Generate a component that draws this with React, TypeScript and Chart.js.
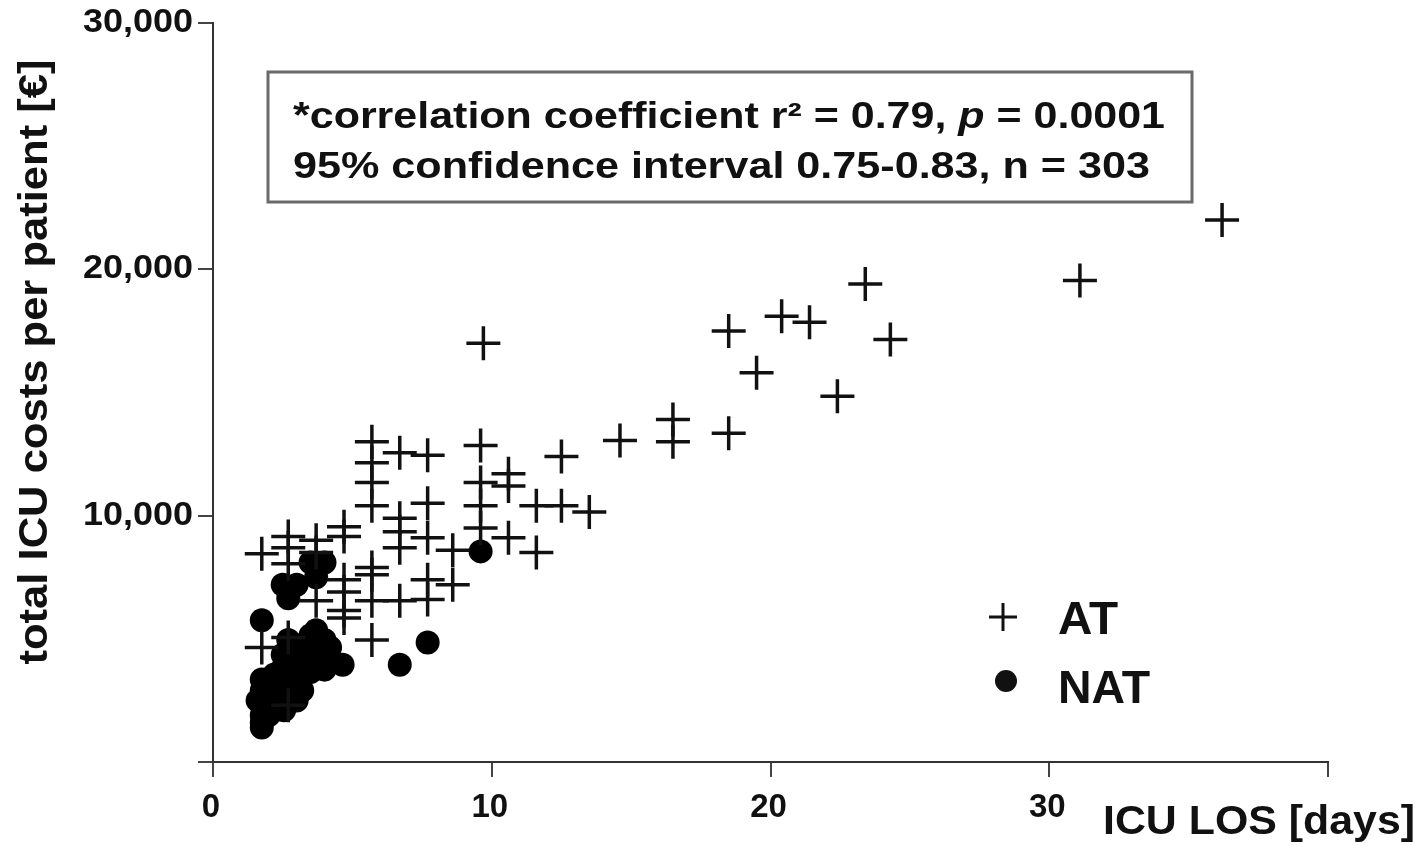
import React, { useEffect, useRef } from "react";
import { Chart, registerables } from "chart.js";

Chart.register(...registerables);

// ---- data ----
const atLos = [
  36.2, 31.1, 23.4, 24.3, 21.4, 20.4, 18.5, 19.5, 22.4, 18.5, 16.5, 16.5, 14.6,
  9.7, 13.5, 12.5, 12.5, 11.6, 11.6, 10.6, 10.6, 10.6, 9.6, 9.6, 9.6, 9.6,
  8.6, 8.6, 7.7, 7.7, 7.7, 7.7, 7.7, 6.7, 6.7, 6.7, 6.7, 6.7,
  5.7, 5.7, 5.7, 5.7, 5.7, 5.7, 5.7, 5.7,
  4.7, 4.7, 4.7, 4.7, 4.7, 4.7,
  3.7, 3.7, 3.7, 2.7, 2.7, 2.7, 2.7, 2.7, 1.75, 1.75,
];
const atCost = [
  22000, 19550, 19400, 17150, 17850, 18100, 17500, 15800, 14850, 13350, 13900, 13000, 13050,
  17000, 10150, 12400, 10400, 10400, 8500, 11700, 11200, 9100, 12850, 11350, 10400, 9500,
  8600, 7200, 12450, 10500, 9100, 7400, 6600, 12550, 9900, 9350, 8700, 6550,
  13000, 12150, 11350, 10400, 7900, 7600, 6550, 4950,
  9550, 9150, 7400, 6900, 6150, 5850,
  8500, 6550, 9000, 9150, 8700, 8050, 5050, 2300, 8450, 4650,
];
const natLos = [
  1.75, 2.5, 3.0, 2.7, 3.5, 4.0, 3.7, 3.5, 4.0, 3.7, 2.7, 3.2, 3.7, 4.2, 3.0,
  2.5, 3.0, 4.65, 1.75, 2.2, 1.75, 2.2, 2.7, 1.75, 1.6, 1.75, 2.55, 6.7, 7.7, 9.6,
  2.7, 3.2, 3.7, 4.2, 2.5, 3.0, 3.5, 4.0, 2.2, 2.7, 1.75, 2.0, 2.4, 3.0, 3.2, 1.75,
];
const natCost = [
  5750, 7200, 7200, 6650, 8100, 8100, 7500, 5150, 4950, 4450, 4150, 4150, 3800, 4150, 3350,
  3800, 2900, 3950, 2900, 2900, 2300, 2300, 2500, 1600, 2500, 1400, 2100, 3950, 4850, 8550,
  4950, 4750, 5350, 4650, 4350, 3950, 3650, 3750, 3550, 3100, 3350, 1900, 2500, 2500, 2900, 1900,
];

const seriesNames = ["AT", "NAT"];
const xTickValues = [0, 10, 20, 30];
const xTickLabels = ["0", "10", "20", "30"];
const yTickValues = [10000, 20000, 30000];
const yTickLabels = ["10,000", "20,000", "30,000"];
const xTitle = "ICU LOS [days]";
const yTitle = "total ICU costs per patient [€]";
const statLine1a = "*correlation coefficient r² = 0.79, ";
const statLine1b = "p";
const statLine1c = " = 0.0001";
const statLine2 = "95% confidence interval 0.75-0.83, n = 303";

const FONT = '"Liberation Sans", Arial, Helvetica, sans-serif';
const INK = "#111";

function fitText(
  ctx: CanvasRenderingContext2D,
  text: string,
  x: number,
  y: number,
  font: string,
  width: number,
  align: CanvasTextAlign
) {
  ctx.save();
  ctx.font = font;
  const w = ctx.measureText(text).width;
  ctx.translate(x, y);
  ctx.scale(width / w, 1);
  ctx.textAlign = align;
  ctx.fillText(text, 0, 0);
  ctx.restore();
}

const decorPlugin = {
  id: "decor",
  afterDraw(chart: any) {
    const ctx: CanvasRenderingContext2D = chart.ctx;
    const xs = chart.scales.x;
    const ys = chart.scales.y;
    ctx.save();
    ctx.fillStyle = INK;

    // y tick labels
    ctx.textBaseline = "middle";
    yTickValues.forEach((v, i) => {
      const py = ys.getPixelForValue(v);
      fitText(ctx, yTickLabels[i], 193, py, `bold 33px ${FONT}`, 110, "right");
    });
    // x tick labels
    xTickValues.forEach((v, i) => {
      const px = xs.getPixelForValue(v);
      ctx.font = `bold 33px ${FONT}`;
      ctx.textAlign = "center";
      ctx.textBaseline = "middle";
      ctx.fillText(xTickLabels[i], px - 2, 808);
    });

    ctx.textBaseline = "alphabetic";
    // x title
    fitText(ctx, xTitle, 1103, 834, `bold 40px ${FONT}`, 312, "left");
    // y title (rotated)
    ctx.save();
    ctx.translate(47, 362);
    ctx.rotate(-Math.PI / 2);
    fitText(ctx, yTitle, 0, 0, `bold 40px ${FONT}`, 605, "center");
    ctx.restore();

    // stats box
    ctx.strokeStyle = "#6a6a6a";
    ctx.lineWidth = 3;
    ctx.strokeRect(268, 72, 924, 130);
    const f = `bold 36px ${FONT}`;
    const fi = `italic bold 36px ${FONT}`;
    ctx.font = f;
    const wa = ctx.measureText(statLine1a).width;
    const wc = ctx.measureText(statLine1c).width;
    ctx.font = fi;
    const wb = ctx.measureText(statLine1b).width;
    const s1 = 872 / (wa + wb + wc);
    ctx.save();
    ctx.translate(293, 128);
    ctx.scale(s1, 1);
    ctx.textAlign = "left";
    ctx.font = f;
    ctx.fillText(statLine1a, 0, 0);
    ctx.font = fi;
    ctx.fillText(statLine1b, wa, 0);
    ctx.font = f;
    ctx.fillText(statLine1c, wa + wb, 0);
    ctx.restore();
    fitText(ctx, statLine2, 293, 178, f, 857, "left");

    // legend
    ctx.strokeStyle = INK;
    ctx.lineWidth = 3;
    ctx.beginPath();
    ctx.moveTo(989, 617);
    ctx.lineTo(1017, 617);
    ctx.moveTo(1003, 603);
    ctx.lineTo(1003, 631);
    ctx.stroke();
    ctx.beginPath();
    ctx.arc(1006, 681, 11, 0, Math.PI * 2);
    ctx.fill();
    fitText(ctx, seriesNames[0], 1058, 634, `bold 46px ${FONT}`, 60, "left");
    fitText(ctx, seriesNames[1], 1058, 703, `bold 46px ${FONT}`, 92, "left");
    ctx.restore();
  },
};

export default function App() {
  const ref = useRef<HTMLCanvasElement | null>(null);
  useEffect(() => {
    if (!ref.current) return;
    const chart = new Chart(ref.current, {
      type: "scatter",
      data: {
        datasets: [
          {
            label: seriesNames[0],
            data: atLos.map((x, i) => ({ x, y: atCost[i] })),
            pointStyle: "cross",
            pointRadius: 17,
            pointBorderWidth: 3.5,
            borderColor: INK,
            backgroundColor: INK,
            clip: false,
          } as any,
          {
            label: seriesNames[1],
            data: natLos.map((x, i) => ({ x, y: natCost[i] })),
            pointStyle: "circle",
            pointRadius: 12,
            pointBorderWidth: 0,
            borderColor: "#000",
            backgroundColor: "#000",
            clip: false,
          } as any,
        ],
      },
      options: {
        responsive: false,
        animation: false,
        devicePixelRatio: 1,
        layout: { autoPadding: false, padding: { left: 198, right: 92, top: 23, bottom: 68 } },
        plugins: { legend: { display: false }, tooltip: { enabled: false }, title: { display: false } },
        scales: {
          x: {
            type: "linear",
            min: 0,
            max: 40,
            ticks: { display: false, stepSize: 10 },
            grid: { display: true, drawOnChartArea: false, drawTicks: true, tickLength: 15, color: "#444", lineWidth: 2 },
            border: { display: true, color: "#333", width: 2 },
          },
          y: {
            type: "linear",
            min: 0,
            max: 30000,
            ticks: { display: false, stepSize: 10000 },
            grid: { display: true, drawOnChartArea: false, drawTicks: true, tickLength: 15, color: "#444", lineWidth: 2 },
            border: { display: true, color: "#333", width: 2 },
          },
        },
      },
      plugins: [decorPlugin],
    });
    return () => chart.destroy();
  }, []);
  return (
    <div style={{ position: "absolute", left: 0, top: 0, width: 1420, height: 845, background: "#fff" }}>
      <canvas ref={ref} width={1420} height={845} style={{ display: "block" }} />
    </div>
  );
}
